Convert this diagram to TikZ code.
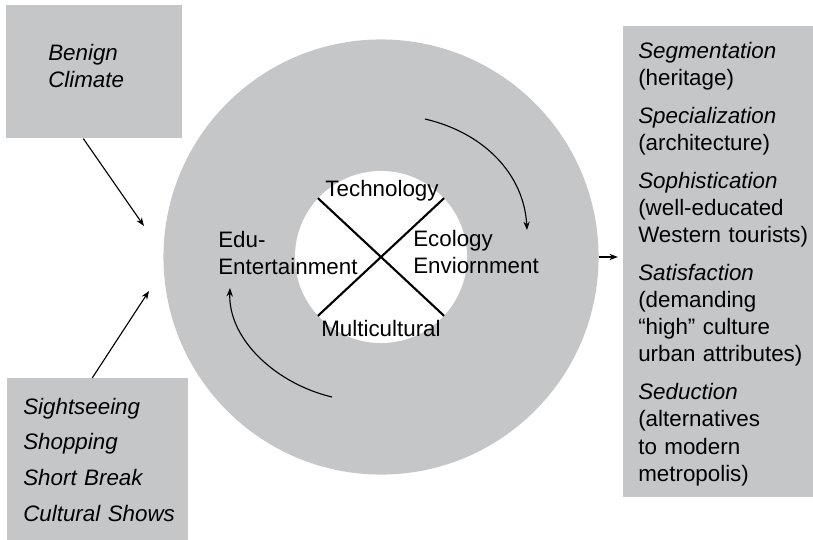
\documentclass[tikz,border=0pt]{standalone}
\usepackage{fontspec}
\setmainfont{Liberation Sans}
\usepackage{xcolor}
\usetikzlibrary{positioning, calc, arrows.meta}
\definecolor{ringgrey}{RGB}{197,198,200}

\begin{document}
\begin{tikzpicture}[x=0.025cm, y=-0.025cm,
        font=\fontsize{15.9}{19.3}\selectfont,
        greybox/.style={fill=ringgrey, inner sep=0pt, anchor=north west},
        txt/.style={inner sep=0pt, anchor=base west, align=left, text width=#1},
        txt/.default=5cm,
        flow/.style={-{Stealth[length=6pt, width=4.5pt]}, line width=0.8pt},
        crossline/.style={line width=1.5pt}]

        \useasboundingbox (0,0) rectangle (813,539);

        % Outer ring and the white hub
        \node[circle, fill=ringgrey, minimum size=10.875cm, inner sep=0pt] (ring) at (381,257) {};
        \node[circle, fill=white, minimum size=4.3cm, inner sep=0pt] (hub) at (381,257) {};

        % Cross in the hub
        \draw[crossline] (hub.137) -- (hub.-43);
        \draw[crossline] (hub.43) -- (hub.-137);

        % Labels round the cross
        \node[anchor=base, inner sep=0pt] (tech) at (382,196) {Technology};
        \node[anchor=base, inner sep=0pt] (multi) at (381,336) {Multicultural};
        \node[txt=4cm] (edu) at (218,247) {Edu-\\Entertainment};
        \node[txt=4cm] (eco) at (413,246) {Ecology\\Enviornment};

        % Turning arrows in the ring
        \coordinate (spinA) at (425,119);
        \coordinate (spinB) at (527,230);
        \draw[flow] (spinA) .. controls (485,133) and (524,175) .. (spinB);
        \coordinate (spinC) at (332,397);
        \coordinate (spinD) at (230,288);
        \draw[flow] (spinC) .. controls (277,384) and (228,340) .. (spinD);

        % Climate box
        \node[greybox, minimum width=4.4cm, minimum height=3.325cm] (climate) at (6,5) {};
        \node[txt=3cm] (climatetext) at (48,60) {\textit{Benign}\\\textit{Climate}};
        \coordinate (ringinA) at (144,226);
        \draw[flow] ([xshift=-0.275cm]climate.south) -- (ringinA);

        % Activities box
        \node[greybox, minimum width=4.525cm, minimum height=4.125cm] (activities) at (7,378) {};
        \node[txt=4cm] (acttext) at (23,414) {\textit{Sightseeing}\\[0.22cm]
            \textit{Shopping}\\[0.22cm]
            \textit{Short Break}\\[0.22cm]
            \textit{Cultural Shows}};
        \coordinate (ringinB) at (149,291);
        \draw[flow] ([xshift=-0.14cm]activities.north) -- (ringinB);

        % Results box
        \node[greybox, minimum width=4.75cm, minimum height=11.775cm] (results) at (623,26) {};
        \node[txt=5cm] (restext) at (638,58) {\textit{Segmentation}\\ (heritage)\\[0.27cm]
            \textit{Specialization}\\ (architecture)\\[0.27cm]
            \textit{Sophistication}\\ (well-educated\\ Western tourists)\\[0.27cm]
            \textit{Satisfaction}\\ (demanding\\ “high” culture\\ urban attributes)\\[0.27cm]
            \textit{Seduction}\\ (alternatives\\ to modern\\ metropolis)};
        \draw[flow] (ring.east) -- ++(19,0);

\end{tikzpicture}
\end{document}
